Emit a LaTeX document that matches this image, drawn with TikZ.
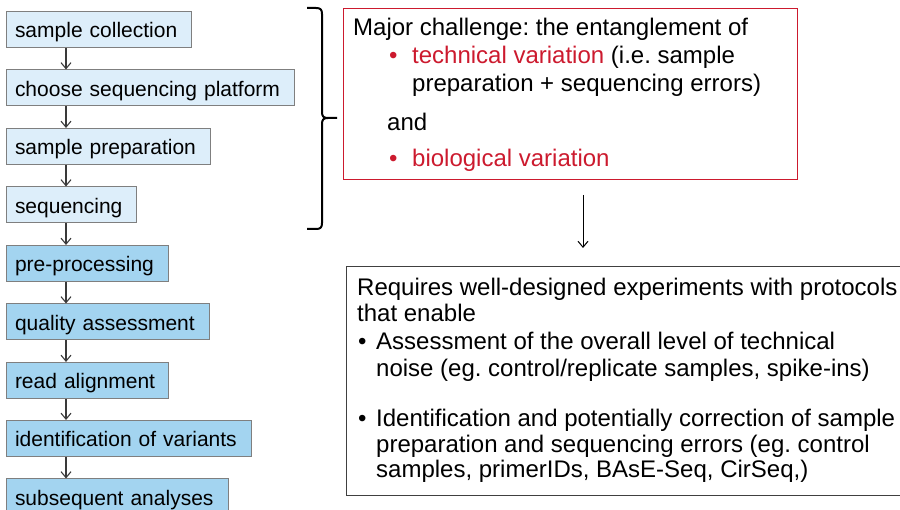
\documentclass[tikz,border=0pt]{standalone}
\usepackage{fontspec}
\setmainfont{Liberation Sans}
\frenchspacing
\usetikzlibrary{arrows.meta}
\definecolor{boxline}{HTML}{7F7F7F}
\definecolor{palefill}{HTML}{DDEEFA}
\definecolor{bluefill}{HTML}{A3D4F0}
\definecolor{alertred}{HTML}{CC1A2E}
\definecolor{arrowgray}{HTML}{3A3A3A}
\definecolor{frame}{HTML}{404040}

\begin{document}
\begin{tikzpicture}[x=1pt,y=-1pt,
  stepbox/.style={draw=boxline, line width=1pt, anchor=north west,
    minimum height=36pt, inner xsep=8.5pt, inner ysep=0pt,
    text height=18pt, text depth=1pt, align=left,
    font=\fontsize{21pt}{25pt}\selectfont},
  early/.style={stepbox, fill=palefill},
  late/.style={stepbox, fill=bluefill},
  flow/.style={draw=arrowgray, line width=1.1pt,
    -{Straight Barb[length=6pt,width=10pt]}},
  lead/.style={draw=black, line width=1pt,
    -{Straight Barb[length=6pt,width=10pt]}},
  txt/.style={anchor=base west, inner sep=0pt,
    font=\fontsize{24pt}{28pt}\selectfont},
]
\useasboundingbox (0,0) rectangle (900,510);
\clip (0,0) rectangle (900,510);

% workflow steps
\node[early, text width=167.7pt] (b1) at (6,11)    {sample collection};
\node[early, text width=271pt]   (b2) at (6,69.5)  {choose sequencing platform};
\node[early, text width=187pt]   (b3) at (6,128)   {sample preparation};
\node[early, text width=113pt]   (b4) at (6,186.5) {sequencing};
\node[late,  text width=145pt]   (b5) at (6,245)   {pre-processing};
\node[late,  text width=186pt]   (b6) at (6,303.5) {quality assessment};
\node[late,  text width=145pt]   (b7) at (6,362)   {read alignment};
\node[late,  text width=228pt]   (b8) at (6,420)   {identification of variants};
\node[late,  text width=205pt]   (b9) at (6,478.5) {subsequent analyses};

\coordinate (ax) at (66,0);
\foreach \a/\b in {b1/b2,b2/b3,b3/b4,b4/b5,b5/b6,b6/b7,b7/b8,b8/b9}
  \draw[flow] (\a.south -| ax) -- (\b.north -| ax);

% brace grouping the wet-lab steps
\coordinate (brtop) at (307,8);
\coordinate (brtip) at (337,118);
\coordinate (brbot) at (307,229);
\draw[line width=2pt, line join=round]
  (brtop) -- (316,8) .. controls (320.5,8) and (322,9.5) .. (322,14)
  -- (322,112) .. controls (322,116.5) and (323.5,118) .. (328,118) -- (brtip)
  (brtip) -- (328,118) .. controls (323.5,118) and (322,119.5) .. (322,124)
  -- (322,223) .. controls (322,227.5) and (320.5,229) .. (316,229) -- (brbot);

% challenge box
\node[draw=alertred, line width=1pt, anchor=north west, inner sep=0pt,
      minimum width=454pt, minimum height=171pt] (chal) at (343,8) {};
\node[txt] (c1) at (353,35.5) {Major challenge: the entanglement of};
\node[txt, text=alertred] (cb1) at (389,64) {•};
\node[txt] (c2) at (412,64) {\textcolor{alertred}{technical variation} (i.e. sample};
\node[txt] (c3) at (412,92) {preparation + sequencing errors)};
\node[txt] (c4) at (387,130.5) {and};
\node[txt, text=alertred] (cb2) at (389,167) {•};
\node[txt, text=alertred] (c5) at (412,167) {biological variation};

% consequence box
\node[draw=frame, line width=1pt, anchor=north west, inner sep=0pt,
      minimum width=600pt, minimum height=229pt] (need) at (346,266) {};
\node[txt] (r1) at (357,295.5) {Requires well-designed experiments with protocols};
\node[txt] (r2) at (357,322) {that enable};
\node[txt] (rb1) at (358,349.5) {•};
\node[txt] (r3) at (376,349.5) {Assessment of the overall level of technical};
\node[txt] (r4) at (376,376.5) {noise (eg. control/replicate samples, spike-ins)};
\node[txt] (rb2) at (358,427) {•};
\node[txt] (r5) at (376,427) {Identification and potentially correction of sample};
\node[txt] (r6) at (376,452.5) {preparation and sequencing errors (eg. control};
\node[txt] (r7) at (376,478) {samples, primerIDs, BAsE-Seq, CirSeq,)};

\coordinate (dtop) at (583,195);
\coordinate (dbot) at (583,248);
\draw[lead] (dtop) -- (dbot);
\end{tikzpicture}
\end{document}
